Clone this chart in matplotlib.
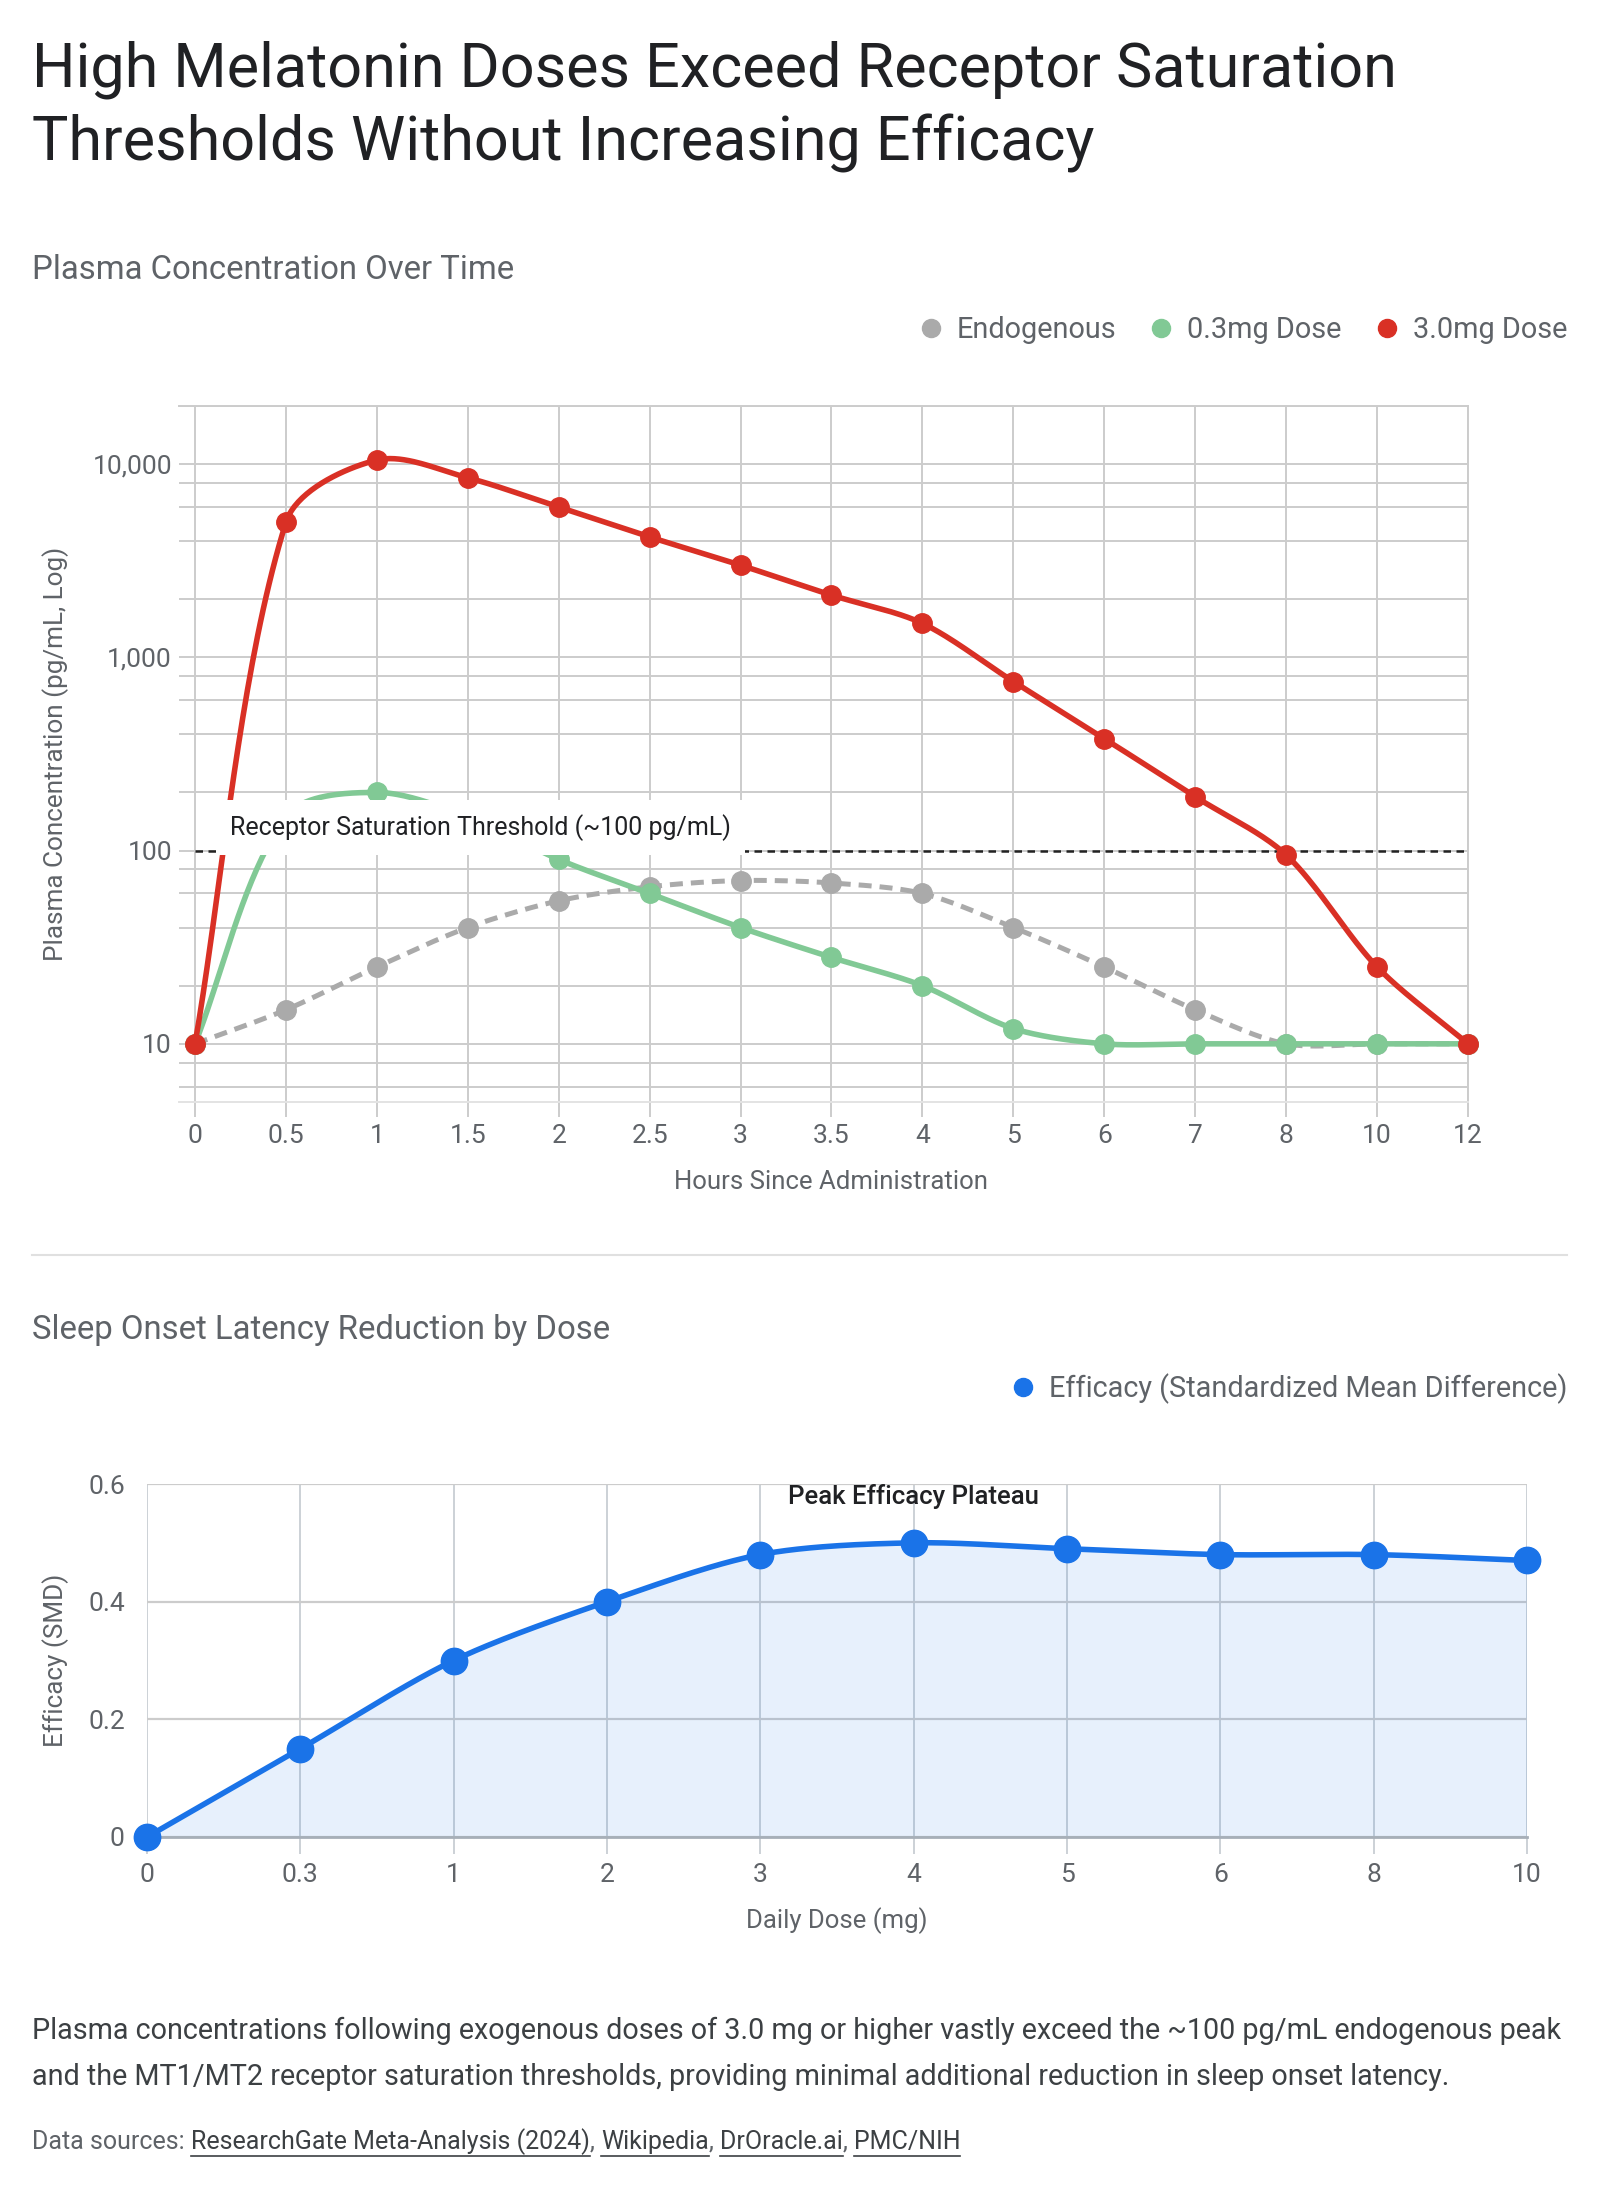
import numpy as np
import matplotlib
matplotlib.use("Agg")
import matplotlib.pyplot as plt
from matplotlib.lines import Line2D
from matplotlib.ticker import FixedLocator, NullFormatter

plt.rcParams['font.family'] = ['Roboto', 'DejaVu Sans']

# plasma concentration (pg/mL) by hours since administration
hours = ['0', '0.5', '1', '1.5', '2', '2.5', '3', '3.5', '4', '5', '6', '7', '8', '10', '12']
endogenous = [10, 15, 25, 40, 55, 65, 70, 68, 60, 40, 25, 15, 10, 10, 10]
dose_03 = [10, 150, 200, 150, 90, 60, 40, 28, 20, 12, 10, 10, 10, 10, 10]
dose_30 = [10, 5000, 10500, 8500, 6000, 4200, 3000, 2100, 1500, 750, 380, 190, 95, 25, 10]
threshold = 100
y_ticks = [10, 100, 1000, 10000]
y_ticklabels = ['10', '100', '1,000', '10,000']

# sleep onset latency reduction (SMD) by daily dose
doses = ['0', '0.3', '1', '2', '3', '4', '5', '6', '8', '10']
efficacy = [0, 0.15, 0.30, 0.40, 0.48, 0.50, 0.49, 0.48, 0.48, 0.47]

GRAY = '#aaaaaa'
GREEN = '#81c995'
RED = '#d93025'
BLUE = '#1a73e8'
GRID = '#cccccc'
TXT = '#5f6368'
DARK = '#202124'

W, H = 1600, 2190


def fx(px):
    return px / W


def fy(py):
    return 1 - py / H


def smooth(y, sx, sy, log=False, n=40, s=0.3):
    # curved line through the points; tangents are worked out in screen units
    # (sx, sy = pixels per x unit / per y unit) so steep segments don't overshoot
    y = np.asarray(y, float)
    if log:
        y = np.log10(y)
    x = np.arange(len(y), dtype=float)
    P = np.column_stack([x * sx, y * sy])
    last = len(P) - 1
    D = []
    for i in range(len(P)):
        d = P[min(i + 1, last)] - P[max(i - 1, 0)]
        D.append(d / np.hypot(*d))
    t = np.linspace(0, 1, n)[:, None]
    out = []
    for i in range(last):
        L = np.hypot(*(P[i + 1] - P[i]))
        p0, p3 = P[i], P[i + 1]
        p1 = p0 + D[i] * L * s
        p2 = p3 - D[i + 1] * L * s
        out.append((1 - t) ** 3 * p0 + 3 * (1 - t) ** 2 * t * p1 + 3 * (1 - t) * t ** 2 * p2 + t ** 3 * p3)
    out = np.vstack(out)
    xs, ys = out[:, 0] / sx, out[:, 1] / sy
    if log:
        ys = 10 ** ys
    return xs, ys


fig = plt.figure(figsize=(16, 21.9), dpi=100)

# titles
fig.text(fx(32), fy(107), 'High Melatonin Doses Exceed Receptor Saturation\nThresholds Without Increasing Efficacy',
         fontsize=44, color=DARK, va='center', ha='left', linespacing=1.32)
fig.text(fx(32), fy(270), 'Plasma Concentration Over Time', fontsize=23.7, color=TXT, va='center')

# ---- top chart ----
ax1 = fig.add_axes([fx(179), fy(1102), (1468 - 179) / W, (1102 - 406) / H])
x1 = np.arange(len(hours))
ax1.set_yscale('log')
ax1.set_ylim(5, 20000)
ax1.set_xlim(-16 / 90.93, len(hours) - 1)
px_x, px_dec = 90.93, 193.2

sx, sy = smooth(endogenous, px_x, px_dec, log=True)
ax1.plot(sx, sy, color=GRAY, lw=3.6, ls=(0, (2.6, 1.6)), dash_capstyle='butt', zorder=3)
ax1.plot(x1, endogenous, 'o', color=GRAY, ms=14, zorder=3.1, clip_on=False)
sx, sy = smooth(dose_03, px_x, px_dec, log=True)
ax1.plot(sx, sy, color=GREEN, lw=4, zorder=4)
ax1.plot(x1, dose_03, 'o', color=GREEN, ms=14, zorder=4.1, clip_on=False)
sx, sy = smooth(dose_30, px_x, px_dec, log=True)
ax1.plot(sx, sy, color=RED, lw=4, zorder=5)
ax1.plot(x1, dose_30, 'o', color=RED, ms=14, zorder=5.1, clip_on=False)

ax1.hlines(threshold, 0, len(hours) - 1, color='#222222', lw=1.8, linestyles=(0, (3.0, 2.2)), zorder=2.5)
ax1.annotate('Receptor Saturation Threshold (~100 pg/mL)', xy=(0, threshold), xytext=(25, 16.5),
             textcoords='offset points', ha='left', va='center', fontsize=18, color=DARK, zorder=10,
             bbox=dict(boxstyle='square,pad=0.56', fc='white', ec='none'))

ax1.set_yticks(y_ticks)
ax1.set_yticklabels(y_ticklabels)
ax1.yaxis.set_minor_locator(FixedLocator([m * d for d in [1, 10, 100, 1000, 10000] for m in [2, 4, 6, 8]]))
ax1.yaxis.set_minor_formatter(NullFormatter())
ax1.set_xticks(x1)
ax1.set_xticklabels(hours)
ax1.grid(True, which='both', axis='y', color=GRID, lw=1.4)
ax1.grid(True, which='major', axis='x', color=GRID, lw=1.4)
ax1.set_axisbelow(True)
ax1.tick_params(axis='y', which='both', length=0, pad=5, labelsize=19, labelcolor=TXT)
ax1.tick_params(axis='x', length=11, width=1.4, color=GRID, pad=5, labelsize=19, labelcolor=TXT)
ax1.spines['left'].set_visible(False)
for s in ['top', 'right']:
    ax1.spines[s].set_color(GRID)
    ax1.spines[s].set_linewidth(1.4)
ax1.spines['bottom'].set_color('#e3e3e3')
ax1.spines['bottom'].set_linewidth(1.4)

fig.text(fx(56), fy(754), 'Plasma Concentration (pg/mL, Log)', rotation=90, fontsize=18.8, color=TXT,
         va='center', ha='center')
fig.text(fx(831), fy(1182), 'Hours Since Administration', fontsize=18.5, color=TXT, va='center', ha='center')

handles = [Line2D([], [], marker='o', ls='', color=c, ms=13) for c in [GRAY, GREEN, RED]]
fig.legend(handles, ['Endogenous', '0.3mg Dose', '3.0mg Dose'], loc='center right',
           bbox_to_anchor=(fx(1567), fy(330)), ncol=3, frameon=False, fontsize=20.8, labelcolor=TXT,
           handlelength=0.7, handletextpad=0.55, columnspacing=1.2, borderaxespad=0, borderpad=0)

# divider
fig.add_artist(Line2D([fx(32), fx(1567)], [fy(1255), fy(1255)], color='#e0e0e0', lw=1.5))

# ---- bottom chart ----
fig.text(fx(32), fy(1330), 'Sleep Onset Latency Reduction by Dose', fontsize=23.7, color=TXT, va='center')
fig.legend([Line2D([], [], marker='o', ls='', color=BLUE, ms=13)], ['Efficacy (Standardized Mean Difference)'],
           loc='center right', bbox_to_anchor=(fx(1567), fy(1389)), frameon=False, fontsize=20.8,
           labelcolor=TXT, handlelength=0.7, handletextpad=0.55, borderaxespad=0, borderpad=0)

ax2 = fig.add_axes([fx(147), fy(1837), (1527 - 147) / W, (1837 - 1484) / H])
x2 = np.arange(len(doses))
ax2.set_xlim(0, len(doses) - 1)
ax2.set_ylim(0, 0.6)
sx, sy = smooth(efficacy, 153.3, 353 / 0.6)
ax2.fill(np.r_[sx, sx[-1], sx[0]], np.r_[sy, 0, 0], color=BLUE, alpha=0.1, lw=0, zorder=1.5)
ax2.plot(sx, sy, color=BLUE, lw=4, zorder=3, clip_on=False)
ax2.plot(x2, efficacy, 'o', color=BLUE, ms=19, zorder=4, clip_on=False)
ax2.annotate('Peak Efficacy Plateau', xy=(5, efficacy[5]), xytext=(0, 33.5), textcoords='offset points',
             ha='center', va='center', fontsize=18.5, fontweight='medium', color=DARK, zorder=6)

ax2.set_xticks(x2)
ax2.set_xticklabels(doses)
ax2.set_yticks([0, 0.2, 0.4, 0.6])
ax2.set_yticklabels(['0', '0.2', '0.4', '0.6'])
ax2.grid(True, axis='y', color=GRID, lw=1.6)
ax2.grid(True, axis='x', color='#c3c9d0', lw=1.2)
ax2.set_axisbelow(True)
ax2.tick_params(axis='y', length=0, pad=16, labelsize=19, labelcolor=TXT)
ax2.tick_params(axis='x', length=12, width=1.2, color='#c3c9d0', pad=7, labelsize=19, labelcolor=TXT)
for s in ['left', 'right', 'top']:
    ax2.spines[s].set_visible(False)
ax2.spines['bottom'].set_color('#a7afb8')
ax2.spines['bottom'].set_linewidth(2)
ax2.spines['bottom'].set_zorder(2)

fig.text(fx(56), fy(1660), 'Efficacy (SMD)', rotation=90, fontsize=18.8, color=TXT, va='center', ha='center')
fig.text(fx(837), fy(1921), 'Daily Dose (mg)', fontsize=18.5, color=TXT, va='center', ha='center')

# ---- footer ----
fig.text(fx(32), fy(2031), 'Plasma concentrations following exogenous doses of 3.0 mg or higher vastly exceed '
         'the ~100 pg/mL endogenous peak', fontsize=20.7, color='#3c4043', va='center')
fig.text(fx(32), fy(2077), 'and the MT1/MT2 receptor saturation thresholds, providing minimal additional '
         'reduction in sleep onset latency.', fontsize=20.7, color='#3c4043', va='center')

fig.canvas.draw()
renderer = fig.canvas.get_renderer()
pieces = [('Data sources: ', False), ('ResearchGate Meta-Analysis (2024)', True), (', ', False),
          ('Wikipedia', True), (', ', False), ('DrOracle.ai', True), (', ', False), ('PMC/NIH', True)]
xpos = 32
for txt, link in pieces:
    t = fig.text(fx(xpos), fy(2142), txt, fontsize=18, color='#3c4043' if link else TXT, va='center')
    bb = t.get_window_extent(renderer)
    if link:
        fig.add_artist(Line2D([fx(xpos), fx(xpos + bb.width)], [fy(2156), fy(2156)], color='#3c4043', lw=1.2))
    xpos += bb.width

fig.savefig('out.png', dpi=100, facecolor='white')
